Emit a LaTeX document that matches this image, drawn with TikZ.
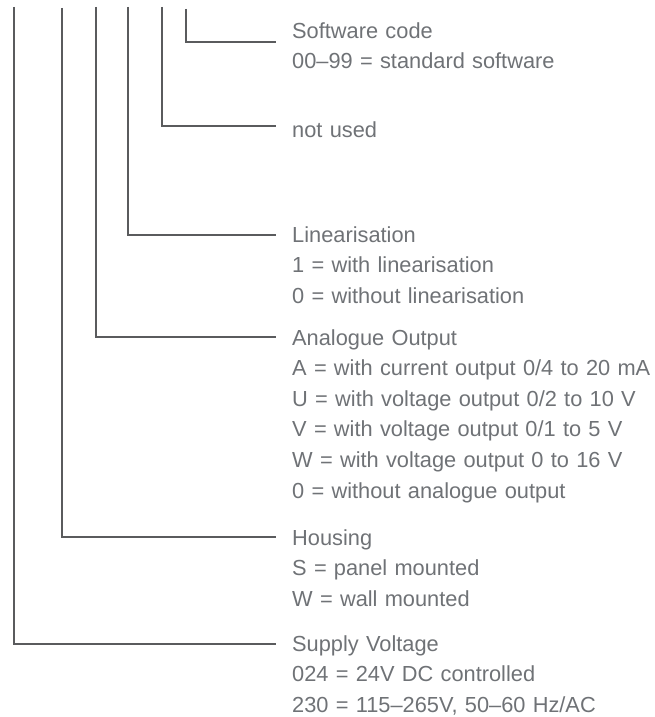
\documentclass[tikz,border=0pt]{standalone}
\usepackage{fontspec}
\setmainfont{Liberation Sans}
\usepackage{xcolor}
\definecolor{cdline}{HTML}{5A5B5D}
\definecolor{cdtext}{HTML}{6F7276}

\begin{document}
\begin{tikzpicture}[
  x=1pt, y=-1pt,
  lead/.style={draw=cdline, line width=2.6pt, line join=miter},
  code/.style={anchor=base west, inner sep=0pt, text=cdtext, align=left,
               text width=400pt, font=\fontsize{21.8}{30.6}\selectfont}
]
\useasboundingbox (0,0) rectangle (654,717);

% field descriptions
\node[code] (sw)  at (292,38)  {Software code\\ 00–99 = standard software};
\node[code] (nu)  at (292,137) {not used};
\node[code] (lin) at (292,242) {Linearisation\\ 1 = with linearisation\\ 0 = without linearisation};
\node[code] (ana) at (292,345) {Analogue Output\\ A = with current output 0/4 to 20 mA\\
  U = with voltage output 0/2 to 10 V\\ V = with voltage output 0/1 to 5 V\\
  W = with voltage output 0 to 16 V\\ 0 = without analogue output};
\node[code] (hou) at (292,545) {Housing\\ S = panel mounted\\ W = wall mounted};
\node[code] (sup) at (292,651) {Supply Voltage\\ 024 = 24V DC controlled\\ 230 = 115–265V, 50–60 Hz/AC};

% digit pins and their ends
\coordinate (pSw)  at (186,9);  \coordinate (eSw)  at (276,42);
\coordinate (pNu)  at (162,7);  \coordinate (eNu)  at (276,126);
\coordinate (pLin) at (128,7);  \coordinate (eLin) at (276,235);
\coordinate (pAna) at (96,7);   \coordinate (eAna) at (276,337);
\coordinate (pHou) at (62,8);   \coordinate (eHou) at (276,537);
\coordinate (pSup) at (14,7);   \coordinate (eSup) at (276,644);

\draw[lead] (pSw) |- (eSw);
\draw[lead] (pNu) |- (eNu);
\draw[lead] (pLin) |- (eLin);
\draw[lead] (pAna) |- (eAna);
\draw[lead] (pHou) |- (eHou);
\draw[lead] (pSup) |- (eSup);

\end{tikzpicture}
\end{document}
